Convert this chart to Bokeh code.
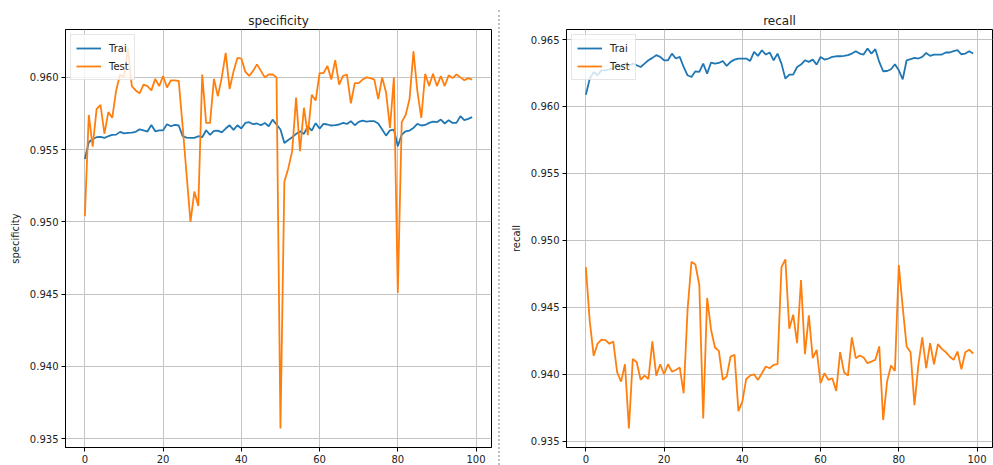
from bokeh.plotting import figure
from bokeh.models import (Range1d, FixedTicker, NumeralTickFormatter, Legend,
                          LegendItem, Div)
from bokeh.layouts import row
from bokeh.embed import file_html
from bokeh.resources import INLINE

# ---------------- data ----------------
epochs = list(range(100))

spec_train = [
    0.95435, 0.95551, 0.95574, 0.95586, 0.95588, 0.95581, 0.95593, 0.95602, 0.95604, 0.95623,
    0.95613, 0.95616, 0.95618, 0.95623, 0.95641, 0.95634, 0.95625, 0.95671, 0.95627, 0.95634,
    0.95634, 0.95676, 0.95662, 0.95671, 0.95667, 0.95593, 0.95583, 0.95581, 0.95581, 0.95593,
    0.95586, 0.95634, 0.95602, 0.95630, 0.95632, 0.95620, 0.95646, 0.95669, 0.95637, 0.95669,
    0.95646, 0.95685, 0.95690, 0.95676, 0.95681, 0.95669, 0.95685, 0.95662, 0.95708, 0.95674,
    0.95639, 0.95546, 0.95567, 0.95586, 0.95609, 0.95627, 0.95609, 0.95662, 0.95632, 0.95683,
    0.95646, 0.95678, 0.95674, 0.95667, 0.95669, 0.95674, 0.95685, 0.95678, 0.95697, 0.95669,
    0.95692, 0.95701, 0.95694, 0.95697, 0.95697, 0.95681, 0.95639, 0.95597, 0.95634, 0.95639,
    0.95523, 0.95604, 0.95627, 0.95632, 0.95650, 0.95678, 0.95667, 0.95671, 0.95685, 0.95694,
    0.95690, 0.95708, 0.95681, 0.95704, 0.95685, 0.95685, 0.95732, 0.95704, 0.95713, 0.95725,
]

spec_test = [
    0.95040, 0.95740, 0.95520, 0.95780, 0.95810, 0.95610, 0.95760, 0.95720, 0.95910, 0.96020,
    0.96000, 0.96200, 0.95940, 0.95910, 0.95890, 0.95950, 0.95940, 0.95910, 0.95990, 0.95940,
    0.96010, 0.95930, 0.95980, 0.95980, 0.95975, 0.95660, 0.95330, 0.95000, 0.95210, 0.95110,
    0.96020, 0.95685, 0.95685, 0.95990, 0.95870, 0.96000, 0.96170, 0.95920, 0.96040, 0.96135,
    0.96130, 0.96040, 0.96010, 0.96045, 0.96090, 0.96045, 0.96000, 0.96020, 0.96020, 0.96000,
    0.93570, 0.95280, 0.95370, 0.95490, 0.95860, 0.95490, 0.95790, 0.95600, 0.95880, 0.95840,
    0.96030, 0.96030, 0.96080, 0.95985, 0.96120, 0.95950, 0.96010, 0.96020, 0.95820, 0.95960,
    0.95960, 0.95985, 0.96000, 0.95995, 0.95985, 0.95850, 0.96000, 0.95895, 0.95650, 0.96000,
    0.94510, 0.95690, 0.95740, 0.95850, 0.96180, 0.95905, 0.95720, 0.96025, 0.95940, 0.96025,
    0.95940, 0.96010, 0.95940, 0.96015, 0.95995, 0.96020, 0.96000, 0.95980, 0.95995, 0.95985,
]

recall_train = [
    0.96088, 0.96208, 0.96258, 0.96233, 0.96270, 0.96270, 0.96278, 0.96283, 0.96308, 0.96288,
    0.96320, 0.96303, 0.96320, 0.96308, 0.96295, 0.96320, 0.96345, 0.96363, 0.96383, 0.96370,
    0.96345, 0.96345, 0.96395, 0.96358, 0.96370, 0.96295, 0.96233, 0.96220, 0.96263, 0.96258,
    0.96320, 0.96245, 0.96328, 0.96320, 0.96325, 0.96340, 0.96303, 0.96333, 0.96350, 0.96358,
    0.96358, 0.96358, 0.96340, 0.96408, 0.96378, 0.96420, 0.96388, 0.96403, 0.96345, 0.96395,
    0.96320, 0.96208, 0.96238, 0.96238, 0.96295, 0.96313, 0.96345, 0.96333, 0.96350, 0.96313,
    0.96370, 0.96350, 0.96358, 0.96370, 0.96375, 0.96375, 0.96378, 0.96383, 0.96395, 0.96413,
    0.96395, 0.96388, 0.96433, 0.96395, 0.96428, 0.96333, 0.96263, 0.96265, 0.96278, 0.96315,
    0.96270, 0.96203, 0.96345, 0.96353, 0.96363, 0.96358, 0.96370, 0.96400, 0.96378, 0.96388,
    0.96388, 0.96388, 0.96403, 0.96403, 0.96413, 0.96420, 0.96390, 0.96395, 0.96413, 0.96395,
]

recall_test = [
    0.94800, 0.94395, 0.94138, 0.94228, 0.94258, 0.94255, 0.94228, 0.94245, 0.94015, 0.93945,
    0.94075, 0.93595, 0.94115, 0.94090, 0.93958, 0.93990, 0.93965, 0.94245, 0.93990, 0.94075,
    0.94000, 0.94075, 0.94020, 0.94032, 0.94050, 0.93858, 0.94483, 0.94840, 0.94820, 0.94665,
    0.93670, 0.94570, 0.94333, 0.94200, 0.94175, 0.93958, 0.93983, 0.94133, 0.94145, 0.93725,
    0.93795, 0.93965, 0.93990, 0.94000, 0.93958, 0.94008, 0.94058, 0.94045, 0.94070, 0.94075,
    0.94800, 0.94858, 0.94340, 0.94445, 0.94233, 0.94703, 0.94150, 0.94440, 0.94120, 0.94183,
    0.93933, 0.94008, 0.93958, 0.93970, 0.93875, 0.94165, 0.94015, 0.93990, 0.94275, 0.94120,
    0.94140, 0.94125, 0.94083, 0.94095, 0.94108, 0.94208, 0.93658, 0.93945, 0.94065, 0.94025,
    0.94815, 0.94500, 0.94208, 0.94165, 0.93770, 0.94070, 0.94275, 0.94045, 0.94233, 0.94075,
    0.94225, 0.94190, 0.94165, 0.94133, 0.94108, 0.94170, 0.94038, 0.94165, 0.94183, 0.94155,
]

x_ticks = [0, 20, 40, 60, 80, 100]
y_ticks = [0.935, 0.940, 0.945, 0.950, 0.955, 0.960, 0.965]
series_labels = ["Trai", "Test"]

BLUE = "#1f77b4"
ORANGE = "#ff7f0e"
FONT = "DejaVu Sans"
TXT = "#222222"
FIG_H = 465


def make_panel(title, ylabel, train, test, width, border_left, border_right):
    lo = min(min(train), min(test))
    hi = max(max(train), max(test))
    pad = (hi - lo) * 0.05
    p = figure(width=width, height=FIG_H, output_backend="svg", toolbar_location=None,
               x_range=Range1d(-4.95, 103.95), y_range=Range1d(lo - pad, hi + pad),
               min_border_left=border_left, min_border_right=border_right,
               min_border_top=29, min_border_bottom=18)
    p.title.text = title
    p.title.align = "center"
    p.title.text_font = FONT
    p.title.text_font_size = "12px"
    p.title.text_font_style = "normal"
    p.title.text_color = TXT
    p.title.standoff = 4

    p.background_fill_color = "white"
    p.border_fill_color = "white"
    p.outline_line_color = "black"
    p.outline_line_width = 1

    p.xaxis.ticker = FixedTicker(ticks=x_ticks)
    p.yaxis.ticker = FixedTicker(ticks=y_ticks)
    p.yaxis.formatter = NumeralTickFormatter(format="0.000")
    for ax in (p.xaxis[0], p.yaxis[0]):
        ax.major_tick_in = 0
        ax.major_tick_out = 4
        ax.minor_tick_in = 0
        ax.minor_tick_out = 0
        ax.axis_line_color = "black"
        ax.major_tick_line_color = "black"
        ax.major_label_text_font = FONT
        ax.major_label_text_font_size = "10px"
        ax.major_label_text_color = TXT
        ax.major_label_standoff = 3
    p.yaxis.axis_label = ylabel
    p.yaxis.axis_label_text_font = FONT
    p.yaxis.axis_label_text_font_size = "10px"
    p.yaxis.axis_label_text_font_style = "normal"
    p.yaxis.axis_label_text_color = TXT
    p.yaxis.axis_label_standoff = 6

    p.grid.grid_line_color = "#c4c4c4"
    p.grid.grid_line_width = 1

    r1 = p.line(epochs, train, line_color=BLUE, line_width=1.8)
    r2 = p.line(epochs, test, line_color=ORANGE, line_width=1.8)

    legend = Legend(items=[LegendItem(label=series_labels[0], renderers=[r1]),
                           LegendItem(label=series_labels[1], renderers=[r2])],
                    location="top_left")
    legend.label_text_font = FONT
    legend.label_text_font_size = "10px"
    legend.label_text_color = TXT
    legend.glyph_width = 25
    legend.glyph_height = 16
    legend.label_height = 16
    legend.label_standoff = 8
    legend.padding = 5
    legend.spacing = 2
    legend.margin = 5
    legend.border_line_color = "#cccccc"
    legend.background_fill_alpha = 0.8
    p.add_layout(legend)
    return p


p1 = make_panel("specificity", "specificity", spec_train, spec_test, 498, 65, 7)
sep = Div(text="", width=2, height=FIG_H - 10, margin=(10, 0, 0, 0),
          styles={"border-left": "2px dotted #c0c0c0", "box-sizing": "border-box"})
p2 = make_panel("recall", "recall", recall_train, recall_test, 493, 66, 1)

layout = row(p1, sep, p2)
open("out.html", "w").write(file_html(layout, INLINE))
